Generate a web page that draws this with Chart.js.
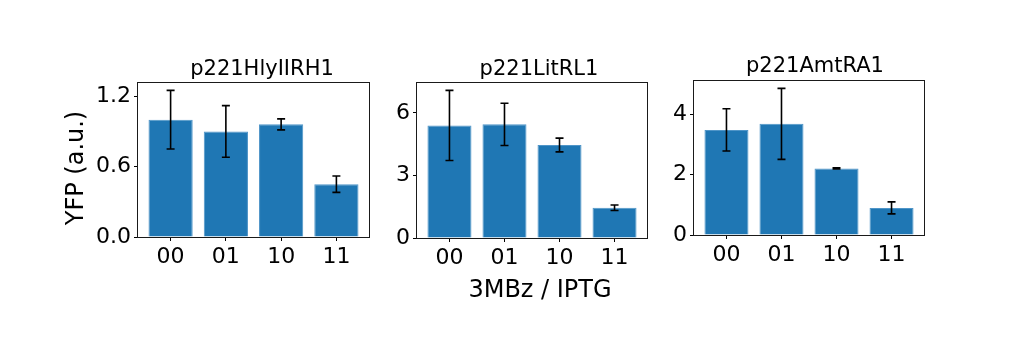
<!DOCTYPE html>
<html><head><meta charset="utf-8">
<script src="https://cdn.jsdelivr.net/npm/chart.js@4.4.0/dist/chart.umd.min.js"></script>
<style>
html,body{margin:0;padding:0;background:#fff;}
#wrap{position:relative;width:1010px;height:357px;overflow:hidden;background:#fff;}
#wrap canvas{position:absolute;top:0;}
</style></head><body>
<div id="wrap">
<canvas id="c1" style="left:0px" width="390" height="357"></canvas>
<canvas id="c2" style="left:380px" width="300" height="357"></canvas>
<canvas id="c3" style="left:650px" width="360" height="357"></canvas>
</div>
<script>
// ---- data ----
const categories = ['00', '01', '10', '11'];
const categoryPositions = [0, 1, 2, 3];
const panelTitles = ['p221HlyIIRH1', 'p221LitRL1', 'p221AmtRA1'];
const xAxisLabel = '3MBz / IPTG';
const yAxisLabel = 'YFP (a.u.)';

const hlyValues = [1.00, 0.90, 0.96, 0.45];
const hlyErrors = [0.25, 0.22, 0.047, 0.07];
const hlyTicks = [0, 0.6, 1.2];
const hlyTickLabels = ['0.0', '0.6', '1.2'];

const litValues = [5.40, 5.45, 4.46, 1.45];
const litErrors = [1.68, 1.01, 0.33, 0.13];
const litTicks = [0, 3, 6];
const litTickLabels = ['0', '3', '6'];

const amtValues = [3.49, 3.69, 2.21, 0.90];
const amtErrors = [0.70, 1.18, 0.02, 0.20];
const amtTicks = [0, 2, 4];
const amtTickLabels = ['0', '2', '4'];

// ---- rendering ----
const FONT = '"DejaVu Sans", "Liberation Sans", sans-serif';
const BAR = '#1f77b4';

const decor = {
  id: 'decor',
  afterDatasetsDraw(chart, args, o) {
    const { ctx, chartArea: a, scales } = chart;
    const meta = chart.getDatasetMeta(0);
    const ds = chart.data.datasets[0];
    ctx.save();
    // error bars
    ctx.strokeStyle = '#000';
    ctx.lineWidth = 1.6;
    meta.data.forEach((bar, i) => {
      const v = ds.data[i].y, e = o.errors[i];
      const yt = scales.y.getPixelForValue(v + e);
      const yb = scales.y.getPixelForValue(v - e);
      const x = bar.x;
      ctx.beginPath();
      ctx.moveTo(x, yt); ctx.lineTo(x, yb);
      ctx.moveTo(x - 4, yt); ctx.lineTo(x + 4, yt);
      ctx.moveTo(x - 4, yb); ctx.lineTo(x + 4, yb);
      ctx.stroke();
    });
    // frame
    ctx.lineWidth = 1;
    ctx.strokeStyle = '#1a1a1a';
    ctx.strokeRect(a.left - 0.5, a.top - 0.5, a.right - a.left + 1, a.bottom - a.top + 1);
    // texts
    ctx.fillStyle = '#000';
    ctx.textBaseline = 'alphabetic';
    ctx.textAlign = 'center';
    ctx.font = '21px ' + FONT;
    ctx.fillText(o.title, o.titleX - o.left, o.titleY);
    if (o.xLabel) {
      ctx.font = '24px ' + FONT;
      ctx.fillText(o.xLabel, o.xLabelX - o.left, o.xLabelY);
    }
    if (o.yLabel) {
      ctx.font = '24px ' + FONT;
      ctx.translate(o.yLabelX - o.left, o.yLabelY);
      ctx.rotate(-Math.PI / 2);
      ctx.fillText(o.yLabel, 0, 0);
    }
    ctx.restore();
  }
};

function makePanel(id, values, errors, ticks, tickLabels, cfg) {
  const top = 1.05 * Math.max(...values.map((v, i) => v + errors[i]));
  const data = categoryPositions.map((x, i) => ({ x: x, y: values[i] }));
  return new Chart(document.getElementById(id), {
    type: 'bar',
    data: {
      datasets: [{
        data: data,
        backgroundColor: BAR,
        borderColor: '#4f95c8',
        borderWidth: 1,
        barPercentage: 0.8,
        categoryPercentage: 1.0
      }]
    },
    options: {
      responsive: false,
      animation: false,
      events: [],
      layout: { padding: { left: 0, right: cfg.padR, top: cfg.top, bottom: 357 - cfg.bottom - 60 } },
      plugins: {
        legend: { display: false },
        tooltip: { enabled: false },
        title: { display: false },
        decor: {
          errors: errors, left: cfg.left,
          title: cfg.title, titleX: cfg.titleX, titleY: cfg.titleY,
          xLabel: cfg.xLabel, xLabelX: 540, xLabelY: 297,
          yLabel: cfg.yLabel, yLabelX: 82.5, yLabelY: 168
        }
      },
      scales: {
        x: {
          type: 'linear',
          offset: false,
          min: -0.59, max: 3.59,
          afterBuildTicks: s => { s.ticks = categoryPositions.map(v => ({ value: v })); },
          afterFit: s => { s.height = 60; },
          ticks: {
            autoSkip: false, maxRotation: 0, padding: 3,
            font: { family: FONT, size: 22 }, color: '#000',
            callback: (v) => categories[categoryPositions.indexOf(v)]
          },
          grid: { offset: false, drawOnChartArea: false, drawTicks: true, tickLength: 4, tickColor: '#000', lineWidth: 1 },
          border: { display: false }
        },
        y: {
          type: 'linear',
          min: 0, max: top,
          afterBuildTicks: s => { s.ticks = ticks.map(v => ({ value: v })); },
          afterFit: s => { s.width = cfg.yW; },
          ticks: {
            padding: 3,
            font: { family: FONT, size: 22 }, color: '#000',
            callback: (v) => tickLabels[ticks.indexOf(v)]
          },
          grid: { offset: false, drawOnChartArea: false, drawTicks: true, tickLength: 4, tickColor: '#000', lineWidth: 1 },
          border: { display: false }
        }
      }
    },
    plugins: [decor]
  });
}

makePanel('c1', hlyValues, hlyErrors, hlyTicks, hlyTickLabels,
  { left: 0, yW: 138, padR: 21, top: 83, bottom: 237, title: panelTitles[0], titleX: 262, titleY: 75, yLabel: yAxisLabel });
makePanel('c2', litValues, litErrors, litTicks, litTickLabels,
  { left: 380, yW: 37, padR: 33, top: 83, bottom: 238, title: panelTitles[1], titleX: 539, titleY: 75, xLabel: xAxisLabel });
makePanel('c3', amtValues, amtErrors, amtTicks, amtTickLabels,
  { left: 650, yW: 44, padR: 86, top: 81, bottom: 235, title: panelTitles[2], titleX: 815, titleY: 72 });
</script>
</body></html>
